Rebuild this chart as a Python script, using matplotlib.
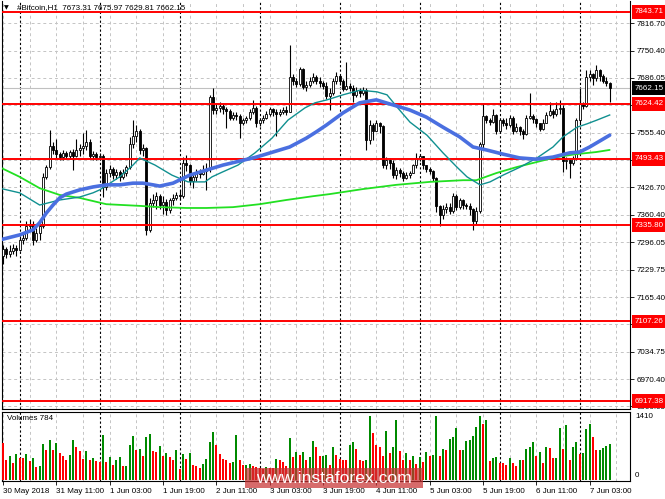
import matplotlib
matplotlib.use("Agg")
import matplotlib.pyplot as plt
from matplotlib.patches import Rectangle
import numpy as np

plt.rcParams['font.family'] = ['Liberation Sans', 'DejaVu Sans']

# ---- data (hourly bars, 30 May 19:00 .. 7 Jun 09:00) ----
first_open = 7262
closes = [7280, 7268, 7275, 7282, 7278, 7300, 7305, 7335, 7340, 7300,
          7318, 7335, 7450, 7475, 7525, 7515, 7505, 7497, 7508, 7500,
          7510, 7500, 7515, 7520, 7525, 7535, 7500, 7505, 7498, 7500,
          7427, 7460, 7470, 7455, 7462, 7450, 7460, 7475, 7530, 7548,
          7560, 7515, 7520, 7325, 7390, 7395, 7405, 7385, 7392, 7372,
          7395, 7400, 7408, 7405, 7484, 7478, 7440, 7450, 7462, 7458,
          7465, 7470, 7640, 7610, 7615, 7620, 7612, 7608, 7590, 7598,
          7595, 7580, 7585, 7590, 7605, 7615, 7580, 7585, 7590, 7600,
          7612, 7605, 7600, 7605, 7610, 7606, 7688, 7678, 7672, 7708,
          7665, 7670, 7680, 7688, 7680, 7675, 7668, 7642, 7650, 7678,
          7690, 7680, 7660, 7668, 7662, 7645, 7655, 7650, 7658, 7538,
          7575, 7560, 7578, 7572, 7478, 7490, 7485, 7455, 7468, 7460,
          7448, 7455, 7460, 7478, 7495, 7500, 7478, 7470, 7465, 7448,
          7382, 7360, 7375, 7380, 7370, 7405, 7380, 7395, 7385, 7382,
          7375, 7345, 7370, 7528, 7595, 7585, 7582, 7598, 7560, 7585,
          7580, 7575, 7592, 7560, 7570, 7560, 7552, 7592, 7595, 7588,
          7578, 7565, 7580, 7598, 7608, 7600, 7612, 7615, 7488, 7490,
          7485, 7495, 7586, 7625, 7620, 7688, 7695, 7685, 7705, 7690,
          7680, 7673.31, 7662.15]
highs = [7290, 7285, 7288, 7292, 7290, 7310, 7315, 7345, 7350, 7345,
         7330, 7340, 7460, 7480, 7562, 7535, 7540, 7510, 7515, 7512,
         7515, 7518, 7540, 7530, 7555, 7562, 7540, 7512, 7510, 7508,
         7505, 7470, 7478, 7475, 7470, 7468, 7470, 7480, 7545, 7586,
         7575, 7565, 7530, 7522, 7400, 7410, 7415, 7410, 7405, 7398,
         7400, 7410, 7415, 7420, 7498, 7503, 7482, 7458, 7470, 7470,
         7480, 7485, 7645, 7662, 7625, 7630, 7625, 7618, 7612, 7605,
         7605, 7600, 7592, 7595, 7612, 7634, 7620, 7592, 7598, 7608,
         7618, 7615, 7612, 7612, 7618, 7620, 7764, 7695, 7685, 7712,
         7710, 7680, 7688, 7698, 7692, 7688, 7680, 7676, 7662, 7685,
         7700, 7692, 7684, 7724, 7675, 7670, 7665, 7662, 7665, 7662,
         7585, 7580, 7585, 7582, 7575, 7498, 7495, 7492, 7475, 7472,
         7465, 7462, 7465, 7482, 7508, 7505, 7500, 7480, 7475, 7468,
         7450, 7385, 7385, 7390, 7388, 7412, 7410, 7400, 7398, 7390,
         7388, 7378, 7380, 7535, 7627, 7598, 7592, 7612, 7600, 7592,
         7592, 7590, 7598, 7595, 7580, 7572, 7565, 7598, 7650, 7600,
         7592, 7580, 7588, 7605, 7628, 7612, 7630, 7634, 7622, 7498,
         7495, 7500, 7590, 7662, 7630, 7705, 7705, 7698, 7717, 7708,
         7695, 7688, 7675.97]
lows = [7245, 7258, 7260, 7268, 7262, 7275, 7292, 7300, 7325, 7290,
        7295, 7300, 7330, 7445, 7470, 7505, 7495, 7490, 7490, 7493,
        7495, 7468, 7498, 7500, 7505, 7515, 7495, 7490, 7490, 7492,
        7403, 7420, 7450, 7445, 7445, 7440, 7445, 7452, 7470, 7520,
        7535, 7505, 7500, 7313, 7320, 7380, 7375, 7375, 7362, 7360,
        7365, 7385, 7395, 7395, 7400, 7465, 7432, 7425, 7440, 7448,
        7455, 7420, 7462, 7600, 7600, 7605, 7600, 7567, 7585, 7585,
        7585, 7543, 7575, 7578, 7585, 7600, 7570, 7572, 7578, 7588,
        7595, 7595, 7548, 7595, 7600, 7598, 7605, 7670, 7665, 7668,
        7660, 7655, 7665, 7675, 7672, 7665, 7660, 7635, 7610, 7645,
        7672, 7670, 7655, 7658, 7655, 7630, 7640, 7640, 7645, 7515,
        7530, 7538, 7560, 7555, 7472, 7470, 7470, 7448, 7445, 7450,
        7440, 7445, 7448, 7460, 7472, 7488, 7470, 7462, 7458, 7440,
        7368, 7335, 7350, 7365, 7362, 7365, 7372, 7375, 7375, 7375,
        7360, 7325, 7340, 7365, 7520, 7578, 7575, 7578, 7552, 7555,
        7572, 7565, 7570, 7552, 7558, 7550, 7540, 7550, 7588, 7580,
        7570, 7560, 7562, 7580, 7595, 7592, 7595, 7600, 7462, 7470,
        7448, 7480, 7490, 7578, 7612, 7618, 7678, 7670, 7680, 7680,
        7675, 7668, 7629.81]
volumes = [824, 448, 520, 376, 578, 484, 475, 578, 412, 484,
           289, 318, 795, 665, 882, 665, 824, 593, 520, 448,
           542, 882, 737, 629, 463, 629, 448, 484, 412, 405,
           990, 390, 506, 340, 434, 506, 304, 318, 774, 969,
           651, 680, 535, 940, 1012, 629, 607, 752, 520, 593,
           506, 434, 665, 246, 578, 463, 593, 340, 318, 268,
           361, 463, 846, 1063, 774, 578, 463, 448, 376, 390,
           990, 434, 330, 340, 350, 300, 290, 265, 250, 280,
           270, 260, 455, 450, 400, 310, 918, 500, 625, 550,
           610, 440, 515, 865, 720, 520, 535, 557, 340, 723,
           542, 463, 448, 434, 774, 831, 680, 434, 412, 434,
           1410, 1027, 774, 723, 521, 1077, 593, 723, 1330, 629,
           448, 593, 448, 535, 362, 506, 390, 615, 535, 545,
           1403, 521, 680, 651, 904, 954, 1135, 651, 665, 870,
           890, 969, 1171, 1403, 1229, 1330, 412, 484, 506, 376,
           370, 340, 484, 376, 318, 448, 445, 680, 723, 846,
           521, 607, 376, 723, 715, 484, 490, 1135, 680, 1207,
           448, 737, 846, 578, 593, 1113, 1243, 954, 651, 665,
           712, 752, 784]

# moving averages (bar index, price)
ma_blue_bar = [-1, 5, 9, 11, 13, 15, 17, 19, 23, 27, 31, 35, 39, 42, 45, 47, 51, 56,
               66, 76, 86, 91, 94, 97, 102, 107, 112, 117, 122, 127, 132, 137, 141,
               145, 150, 155, 160, 165, 170, 173, 176, 179, 182]
ma_blue = [7301, 7313, 7325, 7342, 7365, 7384, 7401, 7410, 7420, 7427, 7432, 7432,
           7436, 7436, 7432, 7429, 7436, 7455, 7479, 7498, 7522, 7543, 7558, 7574,
           7603, 7627, 7634, 7622, 7610, 7593, 7569, 7546, 7522, 7515, 7505, 7496,
           7493, 7498, 7508, 7510, 7522, 7536, 7550]
ma_teal_bar = [-1, 5, 11, 17, 23, 27, 29, 35, 39, 41, 45.6, 50.7, 55.5, 60.6, 62.7,
               65.7, 70.5, 75.6, 80.7, 85.5, 90.6, 93.6, 97.2, 102, 107.1, 112.2,
               115.2, 118.2, 122.1, 127.2, 132, 136.2, 139.2, 143.1, 146.1, 150,
               155.1, 160.2, 165, 168, 172.2, 175.2, 178.2, 182]
ma_teal = [7424, 7413, 7384, 7396, 7403, 7413, 7420, 7451, 7479, 7496, 7479, 7455,
           7439, 7439, 7451, 7462, 7479, 7508, 7543, 7586, 7615, 7627, 7634, 7646,
           7657, 7653, 7646, 7617, 7581, 7550, 7508, 7474, 7451, 7432, 7439, 7455,
           7474, 7496, 7522, 7546, 7569, 7577, 7586, 7598]
ma_green_bar = [-1, 5, 11, 17, 23, 31, 41, 47, 55, 61, 69, 77, 85, 93, 98, 108, 118,
                128, 138, 142, 148, 154, 160, 166, 172, 178, 182]
ma_green = [7474, 7451, 7424, 7408, 7401, 7386, 7382, 7379, 7377, 7377, 7379, 7386,
            7396, 7405, 7410, 7422, 7432, 7439, 7443, 7443, 7460, 7474, 7486, 7498,
            7505, 7510, 7515]

levels = [7843.71, 7624.42, 7493.43, 7335.80, 7107.26, 6917.38]
last_price = 7662.15
price_ticks = [7816.70, 7750.40, 7686.05, 7621.70, 7555.40, 7491.05, 7426.70, 7360.40,
               7296.05, 7229.75, 7165.40, 7101.05, 7034.75, 6970.40, 6906.05]
# tick labels that the level boxes hide completely
hidden_ticks = [7621.70, 7491.05, 7101.05]
time_labels = ["30 May 2018", "31 May 11:00", "1 Jun 03:00", "1 Jun 19:00", "2 Jun 11:00",
               "3 Jun 03:00", "3 Jun 19:00", "4 Jun 11:00", "5 Jun 03:00", "5 Jun 19:00",
               "6 Jun 11:00", "7 Jun 03:00"]

# ---- layout in pixels ----
W, H = 665, 499
fig = plt.figure(figsize=(W / 100, H / 100), dpi=100)
fig.patch.set_facecolor('white')

def fx(px): return px / W
def fy(py): return 1 - py / H

BW = 10 / 3                        # px per bar
def bar_at(xpx): return (xpx - 3) / BW
def price_at(ypx): return 7816.70 - (ypx - 23) * 2.377

FS = 5.8
ax = fig.add_axes([fx(2), fy(409), fx(630) - fx(2), fy(1) - fy(409)])
axv = fig.add_axes([fx(2), fy(481), fx(630) - fx(2), fy(412) - fy(481)])

ax.set_ylim(price_at(409), price_at(1))
for a in (ax, axv):
    a.set_xlim(bar_at(2), bar_at(630))
    a.set_facecolor('white')
    for s in a.spines.values():
        s.set_color('black')
        s.set_linewidth(0.8)
ax.spines['top'].set_visible(False)
axv.set_ylim(-22, 1498)

# grid
nbars = len(closes)
for g in range(0, 190, 8):
    for a in (ax, axv):
        a.axvline(g, color='#c4c4c4', lw=0.7, ls=(0, (3, 3)), zorder=1)
for d in range(5, 190, 24):
    for a in (ax, axv):
        a.axvline(d, color='black', lw=0.8, ls=(0, (2, 2)), zorder=1.2)
for t in price_ticks:
    ax.axhline(t, color='#c4c4c4', lw=0.7, ls=(0, (3, 3)), zorder=1)
ax.axhline(last_price, color='#c0c0c0', lw=0.8, zorder=1.5)

# candles
c = np.array(closes, dtype=float)
o = np.array([first_open] + closes[:-1], dtype=float)
hi = np.array(highs, dtype=float)
lo = np.array(lows, dtype=float)
idx = np.arange(nbars)
up = c >= o
ax.vlines(idx, lo, hi, color='black', lw=0.8, zorder=3)
bottom = np.minimum(o, c)
height = np.maximum(np.abs(c - o), 1.2)
ax.bar(idx[up], height[up], bottom=bottom[up], width=0.62, facecolor='white',
       edgecolor='black', linewidth=0.6, zorder=4)
ax.bar(idx[~up], height[~up], bottom=bottom[~up], width=0.62, facecolor='black',
       edgecolor='black', linewidth=0.6, zorder=4)

# moving averages
ax.plot(ma_green_bar, ma_green, color='#22e022', lw=1.3, zorder=6, solid_capstyle='round')
ax.plot(ma_teal_bar, ma_teal, color='#109090', lw=1.0, zorder=6)
ax.plot(ma_blue_bar, ma_blue, color='#4a6fe0', lw=2.6, zorder=6, solid_capstyle='round')

# title (drawn under the red line)
ax.text((17 - 2) / 628, 1 - (8 - 1) / 408, "#Bitcoin,H1  7673.31 7675.97 7629.81 7662.15",
        transform=ax.transAxes, fontsize=FS, va='center', ha='left', zorder=4.5)
ax.text((4 - 2) / 628, 1 - (8 - 1) / 408, "\u25bc", transform=ax.transAxes,
        fontsize=4.5, va='center', ha='left', family=['DejaVu Sans'], zorder=4.5)

# support / resistance lines
for lv in levels:
    ax.axhline(lv, color='#ff0000', lw=1.4, zorder=5)

# price axis
ax.yaxis.tick_right()
ax.set_yticks(price_ticks)
ax.set_yticklabels(["" if t in hidden_ticks else f"{t:.2f}" for t in price_ticks])
ax.tick_params(axis='y', length=3, width=0.6, pad=2, labelsize=FS, colors='black')
ax.tick_params(axis='x', bottom=False, labelbottom=False)
ytr = ax.get_yaxis_transform()
lx = (635 - 2) / 628
for lv in levels:
    ax.text(lx, lv, f"{lv:.2f}", transform=ytr, fontsize=FS, color='white', va='center',
            ha='left', clip_on=False, zorder=8,
            bbox=dict(boxstyle='square,pad=0.42', facecolor='#ff0000', edgecolor='none'))
ax.text(lx, last_price, f"{last_price:.2f}", transform=ytr, fontsize=FS, color='white',
        va='center', ha='left', clip_on=False, zorder=8,
        bbox=dict(boxstyle='square,pad=0.42', facecolor='black', edgecolor='none'))

# volumes
v = np.array(volumes, dtype=float)
vcol = ['#ff0000'] + ['#008a00' if v[i] > v[i - 1] else '#ff0000' for i in range(1, nbars)]
axv.bar(idx, v, width=0.62, color=vcol, linewidth=0, zorder=3)
axv.set_yticks([])
vtr = axv.get_yaxis_transform()
axv.text(lx, 1410 - 20, "1410", transform=vtr, fontsize=FS, va='center', ha='left', clip_on=False)
axv.text(lx, 110, "0", transform=vtr, fontsize=FS, va='center', ha='left', clip_on=False)
axv.text((7 - 2) / 628, 1 - (419 - 412) / 69, f"Volumes {volumes[-1]}", transform=axv.transAxes,
         fontsize=FS, va='center', ha='left', zorder=7)
axv.set_xticks(range(0, nbars, 16))
axv.set_xticklabels(time_labels, ha='left')
axv.tick_params(axis='x', length=3, width=0.6, pad=2, labelsize=FS)

# watermark
fig.add_artist(Rectangle((fx(245), fy(488)), fx(423) - fx(245), fy(468) - fy(488),
                         transform=fig.transFigure, facecolor='#c83232', alpha=0.72,
                         edgecolor='none', zorder=10))
fig.text(fx(334), fy(478.5), "www.instaforex.com", color='white', fontsize=12.6,
         ha='center', va='center', zorder=11)

fig.savefig("out.png", dpi=100, facecolor='white')
